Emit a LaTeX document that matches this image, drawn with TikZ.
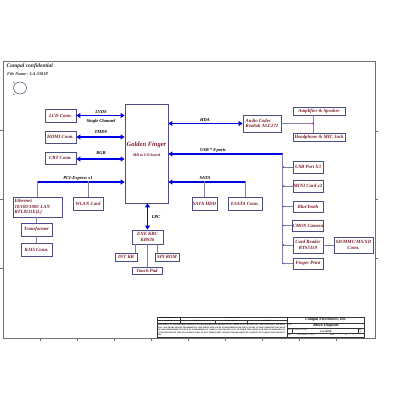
\documentclass[tikz,border=0pt]{standalone}
\usepackage{fontspec}
\setmainfont{Liberation Serif}
\usetikzlibrary{arrows.meta,calc}
\definecolor{boxc}{HTML}{4D4D85}
\definecolor{txtc}{HTML}{7A1A2A}
\definecolor{busc}{HTML}{0000E6}
\definecolor{conc}{HTML}{7F7FA8}
\definecolor{dotc}{HTML}{E000E0}
\definecolor{framec}{HTML}{707070}
\begin{document}
\begin{tikzpicture}[x=1pt,y=-1pt,
  box/.style={draw=boxc, line width=0.7pt, fill=white, text=txtc,
    font=\fontsize{4.8}{5.4}\selectfont\bfseries\itshape, inner sep=0pt, align=center},
  lbl/.style={font=\fontsize{4.5}{5}\selectfont\bfseries\itshape, text=black, inner sep=0pt},
  bus/.style={draw=busc, line width=1.8pt},
  bidir/.style={bus, {Triangle[length=4pt,width=5pt]}-{Triangle[length=4pt,width=5pt]}},
  uni/.style={bus, -{Triangle[length=4pt,width=5pt]}},
  conn/.style={draw=conc, line width=0.6pt},
  tb/.style={draw=black!80, line width=0.35pt},
  tiny/.style={font=\fontsize{1.8}{2}\selectfont, inner sep=0pt},
  tbig/.style={font=\fontsize{4}{4.5}\selectfont\bfseries\itshape, inner sep=0pt}
]
\useasboundingbox (0,0) rectangle (400,400);
\fill[white] (0,0) rectangle (400,400);

% frame
\draw[framec, line width=0.7pt] (3,61) rectangle (375,338);
\foreach \x in {40,77,114,151,188,225,262,299,336} \draw[framec, line width=0.5pt] (\x,338) -- (\x,341);
\foreach \y in {130,199,268} \draw[framec, line width=0.5pt] (3,\y) -- (0,\y);
\foreach \y in {131,199,258} \draw[framec, line width=0.5pt] (375,\y) -- (378,\y);

% header
\node[anchor=west, font=\fontsize{5.5}{6}\selectfont\bfseries\itshape, text=black!85, inner sep=0pt] (conf) at (6.5,66) {Compal confidential};
\node[anchor=west, font=\fontsize{4.3}{5}\selectfont\bfseries\itshape, text=black!85, inner sep=0pt] (fname) at (7,74) {File Name : LA-5381P};
\draw[boxc, line width=0.5pt] (20,88) ellipse (6.5 and 6);
\draw[boxc, line width=0.4pt] (13,83) -- (15,82);
\draw[boxc, line width=0.4pt] (13,94) -- (15,95);

% boxes
\node[box, minimum width=31pt, minimum height=13pt] (lcd) at (60.5,115.5) {LCD Conn.};
\node[box, minimum width=31pt, minimum height=12pt] (hdmi) at (60.5,137) {HDMI Conn.};
\node[box, minimum width=31pt, minimum height=12pt] (crt) at (60.5,158) {CRT Conn.};
\node[box, minimum width=43pt, minimum height=99pt] (gf) at (146.5,153.5) {};
\node[text=txtc, font=\fontsize{6.5}{7}\selectfont\bfseries\itshape, inner sep=0pt] (gft) at (146.5,145) {Golden Finger};
\node[text=txtc, font=\fontsize{4}{4.5}\selectfont\bfseries\itshape, inner sep=0pt] (gfs) at (146.5,155) {MB to I/O board};
\node[box, minimum width=38pt, minimum height=17pt, align=left] (audio) at (262,123.5) {Audio Codec\\Realtek ALC272};
\node[box, minimum width=52pt, minimum height=8pt] (amp) at (319,111) {Amplifier \& Speaker};
\node[box, minimum width=52pt, minimum height=8pt] (hp) at (319,137) {Headphone \& MIC Jack};
\node[box, minimum width=30pt, minimum height=12pt] (usbp) at (308,167) {USB Port X3};
\node[box, minimum width=30pt, minimum height=12pt] (mini) at (308,186) {MINI Card x2};
\node[box, minimum width=30pt, minimum height=11pt] (bt) at (308,206.5) {BlueTooth};
\node[box, minimum width=30pt, minimum height=11pt] (cmos) at (308,225.5) {CMOS Camera};
\node[box, minimum width=30pt, minimum height=16pt] (cr) at (308,245) {Card Reader\\RTS5159};
\node[box, minimum width=39pt, minimum height=16pt] (sd) at (353.5,245) {SD/MMC/MS/XD\\Conn.};
\node[box, minimum width=30pt, minimum height=11pt] (fp) at (308,263.5) {Finger Print};
\node[box, minimum width=49pt, minimum height=20pt, align=left, text width=46pt] (eth) at (37.5,207) {Ethernet\\10/100/1000 LAN\\RTL8111E(L)};
\node[box, minimum width=30pt, minimum height=13pt] (wlan) at (88,203.5) {WLAN Card};
\node[box, minimum width=31pt, minimum height=13pt] (trans) at (36.5,229.5) {Transformer};
\node[box, minimum width=31pt, minimum height=13pt] (rj) at (36.5,249.5) {RJ45 Conn.};
\node[box, minimum width=25pt, minimum height=13pt] (hdd) at (204.5,203.5) {SATA HDD};
\node[box, minimum width=34pt, minimum height=13pt] (esata) at (245,203.5) {ESATA Conn.};
\node[box, minimum width=31pt, minimum height=14pt] (kbc) at (147.5,237) {ENE KBC\\KB926};
\node[box, minimum width=22pt, minimum height=8pt] (intkb) at (126,257) {INT KB};
\node[box, minimum width=24pt, minimum height=8pt] (spi) at (167,257) {SPI ROM};
\node[box, minimum width=30pt, minimum height=7pt] (tp) at (147,270.5) {Touch Pad};

% blue buses
\draw[bidir] (lcd.east) -- (lcd.east -| gf.west);
\draw[bidir] (hdmi.east) -- (hdmi.east -| gf.west);
\draw[bidir] ([yshift=-1pt]crt.east) -- ([yshift=-1pt]crt.east -| gf.west);
\draw[bidir] (gf.east |- audio.west) -- (audio.west);
\coordinate (usbc) at (282.5,154);
\draw[uni] (usbc) -- (usbc -| gf.east);
\coordinate (pcie) at (37.5,182);
\draw[uni] (pcie) -- (pcie -| gf.west);
\coordinate (sata) at (245,182);
\draw[uni] (sata) -- (sata -| gf.east);
\draw[bidir] (gf.south -| kbc.north) -- (kbc.north);

% labels
\node[lbl] (l1) at (101,112.5) {LVDS};
\node[lbl] (l2) at (101,121) {Single Channel};
\node[lbl] (l3) at (101,132.5) {TMDS};
\node[lbl] (l4) at (101,153) {RGB};
\node[lbl] (l5) at (205,120.5) {HDA};
\node[lbl] (l6) at (213,150.5) {USB * 8 ports};
\node[lbl] (l7) at (78,178) {PCI-Express x1};
\node[lbl] (l8) at (205,178) {SATA};
\node[lbl] (l9) at (156,217) {LPC};

% thin connectors
\coordinate (aj) at ([xshift=-6pt]amp.south |- audio.east);
\draw[conn] (audio.east) -- (aj);
\draw[conn] (aj |- amp.south) -- (aj |- hp.north);
\fill[dotc] (aj) circle (0.8);
\draw[conn] (usbc) -- (usbc |- fp.west);
\foreach \n in {usbp,mini,bt,cmos,cr,fp} {
  \draw[conn] (usbc |- \n.west) -- (\n.west);
  \fill[dotc] ([xshift=1pt]usbc |- \n.west) circle (0.8);
}
\draw[conn] (cr.east) -- (sd.west);
\draw[conn] ([yshift=0.9pt]pcie) -- (eth.north);
\draw[conn] ([yshift=0.9pt]wlan.north |- pcie) -- (wlan.north);
\draw[conn] (eth.south -| trans.north) -- (trans.north);
\draw[conn] (trans.south) -- (rj.north);
\draw[conn] ([yshift=0.9pt]sata) -- (esata.north);
\draw[conn] ([yshift=0.9pt]hdd.north |- sata) -- (hdd.north);
\draw[conn] ([xshift=-2pt]intkb.north east) -- ([xshift=-2pt]intkb.north east |- kbc.south);
\draw[conn] ([xshift=2.5pt]spi.north west) -- ([xshift=2.5pt]spi.north west |- kbc.south);
\draw[conn] (tp.north) -- (tp.north |- kbc.south);

% title block
\draw[tb] (157,317) rectangle (364,337);
\draw[tb] (287,317) -- (287,337);
\draw[tb] (157,319.8) -- (287,319.8);
\draw[tb] (157,322.8) -- (287,322.8);
\draw[tb] (180,317) -- (180,322.8);
\draw[tb] (215,319.8) -- (215,322.8);
\draw[tb] (247,319.8) -- (247,322.8);
\node[tiny] (t1) at (168.5,318.4) {Security Classification};
\node[tiny] (t2) at (233.5,318.4) {Compal Secret Data};
\node[tiny] (t3) at (168.5,321.3) {Issued Date};
\node[tiny] (t4) at (197.5,321.3) {2009/03/13};
\node[tiny] (t5) at (231,321.3) {Deciphered Date};
\node[tiny] (t6) at (267,321.3) {2010/12/31};
\node[tiny, anchor=north west, text width=127pt, align=justify, font=\fontsize{1.9}{2.6}\selectfont\bfseries] (t7) at (158,324) {THIS SHEET OF ENGINEERING DRAWING IS THE PROPRIETARY PROPERTY OF COMPAL ELECTRONICS, INC. AND CONTAINS CONFIDENTIAL AND TRADE SECRET INFORMATION. THIS SHEET MAY NOT BE TRANSFERED FROM THE CUSTODY OF THE COMPETENT DIVISION OF R\&D DEPARTMENT EXCEPT AS AUTHORIZED BY COMPAL ELECTRONICS, INC. NEITHER THIS SHEET NOR THE INFORMATION IT CONTAINS MAY BE USED BY OR DISCLOSED TO ANY THIRD PARTY WITHOUT PRIOR WRITTEN CONSENT OF COMPAL ELECTRONICS, INC.};
\node[tbig] (t8) at (326,320) {Compal Electronics, Inc.};
\draw[tb] (287,323) -- (364,323);
\node[tiny, anchor=west] (t9) at (288,324.4) {Title};
\node[tbig] (t10) at (326,326) {Block Diagram};
\draw[tb] (287,328.5) -- (364,328.5);
\draw[tb] (292.5,328.5) -- (292.5,333);
\draw[tb] (358,328.5) -- (358,333);
\node[tiny, anchor=west] (t11) at (287.6,329.6) {Size};
\node[tiny, anchor=west] (t12) at (293.3,329.6) {Document Number};
\node[font=\fontsize{2.6}{3}\selectfont\bfseries, inner sep=0pt] (t13) at (326,331.2) {LA-5381P};
\node[tiny, anchor=west] (t14) at (358.6,329.6) {Rev};
\node[tiny] (t15) at (361,331.7) {1.0};
\draw[tb] (287,333) -- (364,333);
\node[tiny, anchor=west] (t16) at (287.6,335) {Date:};
\node[tiny, anchor=west] (t17) at (297,335) {Friday, March 13, 2009};
\node[tiny, anchor=west] (t18) at (330,335) {Sheet};
\node[tiny] (t19) at (340,335) {1};
\node[tiny] (t20) at (346,335) {of};
\node[tiny] (t21) at (353,335) {1};
\end{tikzpicture}
\end{document}
